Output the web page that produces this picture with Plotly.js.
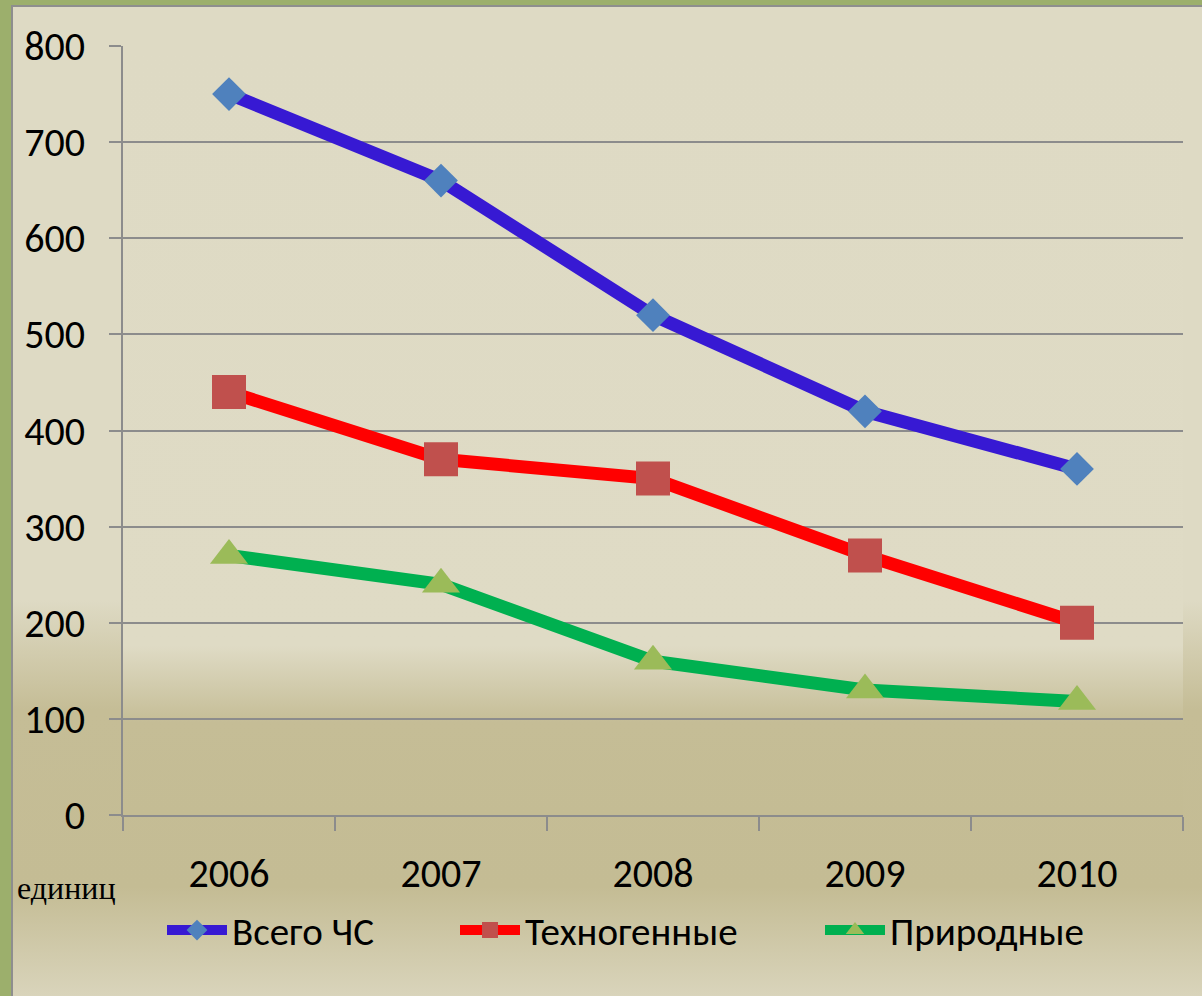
<!DOCTYPE html>
<html>
<head>
<meta charset="utf-8">
<script src="https://cdn.plot.ly/plotly-3.0.1.min.js"></script>
<style>
  html, body { margin: 0; padding: 0; }
  #wrap { position: relative; width: 1202px; height: 996px; background: #9caf6c; overflow: hidden; }
  #inner { position: absolute; left: 11px; top: 5px; right: 0; bottom: 0;
    border-left: 2px solid #8e8e8e; border-top: 2px solid #8e8e8e;
    background: linear-gradient(to bottom, #dedac4 0%, #dedac4 60%, #c5bd96 71%, #c4bc94 89%, #d9d4bb 100%); }
  #plotbg { position: absolute; left: 123px; top: 46px; width: 1060px; height: 769px;
    background: linear-gradient(to bottom, #dedac4 0%, #dfdbc5 78%, #c5bd96 88%, #c4bc94 100%); }
  #chart { position: absolute; left: 0; top: 0; width: 1202px; height: 996px; }
</style>
</head>
<body>
<div id="wrap">
  <div id="inner"></div>
  <div id="plotbg"></div>
  <div id="chart"></div>
</div>
<script>
const years = ['2006', '2007', '2008', '2009', '2010'];
const totalES = [750, 660, 520, 420, 360];
const manMade = [440, 370, 350, 270, 200];
const natural = [270, 240, 160, 130, 118];
const seriesNames = ['Всего ЧС', 'Техногенные', 'Природные'];
const unitLabel = 'единиц';

const gridCol = '#8c8c8c';
const font = 'Carlito, "Open Sans", sans-serif';

const traces = [
  { x: years, y: totalES, name: seriesNames[0], type: 'scatter', mode: 'lines+markers', legend: 'legend',
    line: { color: '#3719d3', width: 13 },
    marker: { symbol: 'diamond', size: 26, color: '#4f81bd', line: { width: 0 } } },
  { x: years, y: manMade, name: seriesNames[1], type: 'scatter', mode: 'lines+markers', legend: 'legend2',
    line: { color: '#ff0000', width: 13 },
    marker: { symbol: 'square', size: 34, color: '#c0504d', line: { width: 0 } } },
  { x: years, y: natural, name: seriesNames[2], type: 'scatter', mode: 'lines+markers', legend: 'legend3',
    line: { color: '#00b050', width: 13 },
    marker: { symbol: 'triangle-up', size: 33, color: '#9bbb59', line: { width: 0 } } }
];

function legendAt(px) {
  return {
    orientation: 'h', xref: 'container', yref: 'container',
    x: px / 1202, xanchor: 'left', y: 0.066, yanchor: 'middle',
    font: { family: font, size: 39, color: '#000' },
    itemwidth: 60, bgcolor: 'rgba(0,0,0,0)'
  };
}

const layout = {
  width: 1202, height: 996,
  margin: { l: 123, r: 19, t: 46, b: 181 },
  paper_bgcolor: 'rgba(0,0,0,0)',
  plot_bgcolor: 'rgba(0,0,0,0)',
  font: { family: font, color: '#000', size: 40 },
  showlegend: true,
  legend: legendAt(162),
  legend2: legendAt(455),
  legend3: legendAt(820),
  xaxis: {
    type: 'category', range: [-0.5, 4.5], showgrid: false, zeroline: false,
    showline: true, linecolor: gridCol, linewidth: 2,
    ticks: 'outside', tickson: 'boundaries', ticklen: 14, tickwidth: 2, tickcolor: gridCol,
    tickfont: { family: font, size: 40 }, ticklabelstandoff: 22, fixedrange: true
  },
  yaxis: {
    range: [0, 800], dtick: 100, tick0: 0, showgrid: true, gridcolor: gridCol, gridwidth: 2,
    zeroline: false, showline: true, linecolor: gridCol, linewidth: 2,
    ticks: 'outside', ticklen: 12, tickwidth: 2, tickcolor: gridCol,
    tickfont: { family: font, size: 40 }, ticklabelstandoff: 16, fixedrange: true
  },
  annotations: [
    { text: unitLabel, xref: 'paper', yref: 'paper', x: (15 - 123) / 1060, y: (815 - 888) / 769,
      xanchor: 'left', yanchor: 'middle', showarrow: false,
      font: { family: '"Liberation Serif", "Times New Roman", serif', size: 32, color: '#000' } }
  ]
};

Plotly.newPlot('chart', traces, layout, { displayModeBar: false, staticPlot: true });
</script>
</body>
</html>
